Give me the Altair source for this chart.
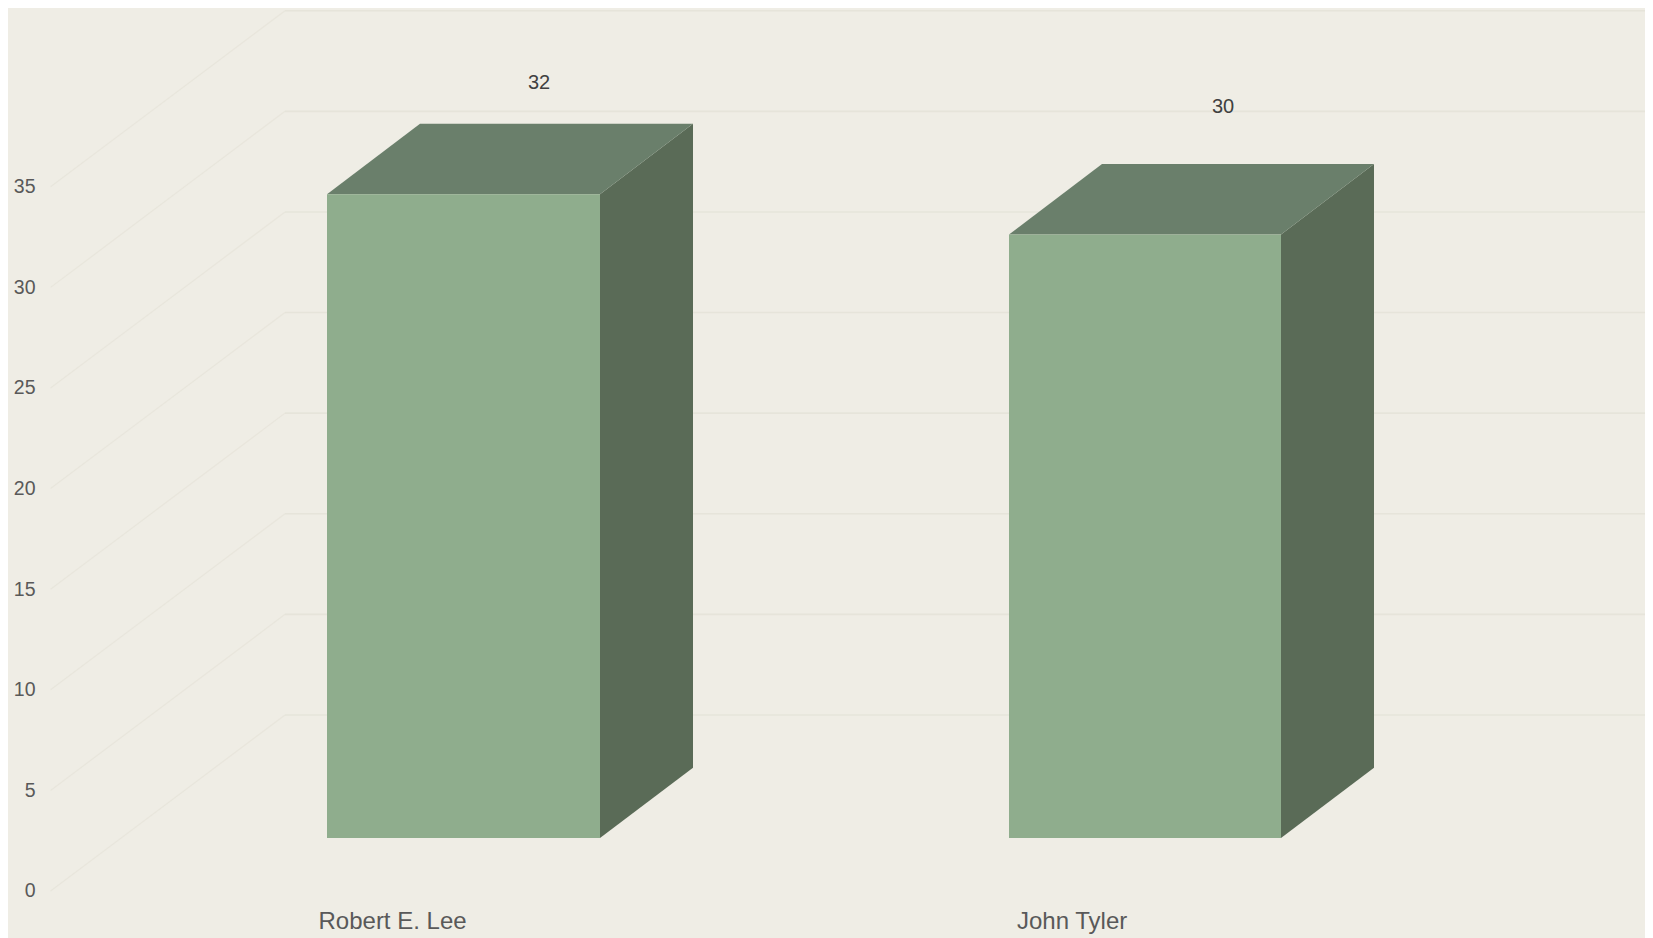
import altair as alt
import pandas as pd

names = ["Robert E. Lee", "John Tyler"]
values = [32, 30]
ticks = [0, 5, 10, 15, 20, 25, 30, 35]

# projection of the pseudo-3D box: x in canvas pixels, y in value units
bar_left = [327, 1009]
bar_right = [600, 1281]
bar_dx = 93
bar_dv = 3.5
bar_floor = 2.63
label_x = [539, 1223]
label_lift = [8.14, 8.99]
name_x = [318.5, 1017]
name_v = -1.55
wall_front_x = 50.6
wall_back_x = 285
wall_right_x = 1648
wall_dv = 8.75

BG = "#efede5"
FRONT = "#8fad8d"
SIDE = "#5a6b57"
TOP = "#6a7f6b"
GRID = "#e6e4da"
TEXT = "#595959"
LABEL = "#404040"
FONT = "Liberation Sans"

xs = alt.Scale(domain=[8, 1645], range=[0, 1637], nice=False, zero=False)
ys = alt.Scale(domain=[-2.336, 43.886], nice=False, zero=False)
y_axis = alt.Axis(
    values=ticks, domain=False, ticks=False, grid=False, title=None,
    labelPadding=-27, labelAlign="right", labelFont=FONT, labelFontSize=19.5,
    labelColor=TEXT, orient="left",
)


def X(field):
    return alt.X(field, type="quantitative", scale=xs, axis=None, stack=None)


def Y(field):
    return alt.Y(field, type="quantitative", scale=ys, axis=y_axis, stack=None)


grid = pd.DataFrame({"v": ticks})
grid["x0"] = wall_front_x
grid["x1"] = wall_back_x
grid["x2"] = wall_right_x
grid["vb"] = grid["v"] + wall_dv

front = pd.DataFrame({"name": names, "l": bar_left, "r": bar_right})
front["y0"] = bar_floor
front["y1"] = [v + bar_floor for v in values]

side_rows = []
top_rows = []
for n, l, r, v in zip(names, bar_left, bar_right, values):
    h = v + bar_floor
    side_rows.append({"name": n, "x": r, "y0": bar_floor, "y1": h})
    side_rows.append({"name": n, "x": r + bar_dx, "y0": bar_floor + bar_dv, "y1": h + bar_dv})
    top_rows.append({"name": n, "y": h, "xa": l, "xb": r})
    top_rows.append({"name": n, "y": h + bar_dv, "xa": l + bar_dx, "xb": r + bar_dx})
side = pd.DataFrame(side_rows)
top = pd.DataFrame(top_rows)
lab = pd.DataFrame({"x": label_x, "y": [v + d for v, d in zip(values, label_lift)], "t": values})
nam = pd.DataFrame({"x": name_x, "y": [name_v] * len(names), "t": names})

wall_h = alt.Chart(grid).mark_rule(color=GRID, strokeWidth=1.6).encode(
    x=X("x1"), x2="x2:Q", y=Y("vb")
)
wall_d = alt.Chart(grid).mark_rule(color=GRID, strokeWidth=1.2, opacity=0.8).encode(
    x=X("x0"), x2="x1:Q", y=Y("v"), y2="vb:Q"
)
face_front = alt.Chart(front).mark_rect(color=FRONT).encode(
    x=X("l"), x2="r:Q", y=Y("y0"), y2="y1:Q"
)
face_side = alt.Chart(side).mark_area(color=SIDE, orient="vertical").encode(
    x=X("x"), y=Y("y0"), y2="y1:Q", detail="name:N"
)
face_top = alt.Chart(top).mark_area(color=TOP, orient="horizontal").encode(
    x=X("xa"), x2="xb:Q", y=Y("y"), detail="name:N"
)
value_labels = alt.Chart(lab).mark_text(
    font=FONT, fontSize=20, color=LABEL, align="center", baseline="middle"
).encode(x=X("x"), y=Y("y"), text="t:Q")
name_labels = alt.Chart(nam).mark_text(
    font=FONT, fontSize=24, color=TEXT, align="left", baseline="middle"
).encode(x=X("x"), y=Y("y"), text="t:N")

chart = alt.layer(
    wall_h, wall_d, face_side, face_top, face_front, value_labels, name_labels
).properties(
    width=1637, height=930, background=BG, padding=0,
    autosize=alt.AutoSizeParams(type="none"),
).configure_view(stroke=None)

chart.save("out.html", embed_options={"renderer": "svg", "actions": False})
